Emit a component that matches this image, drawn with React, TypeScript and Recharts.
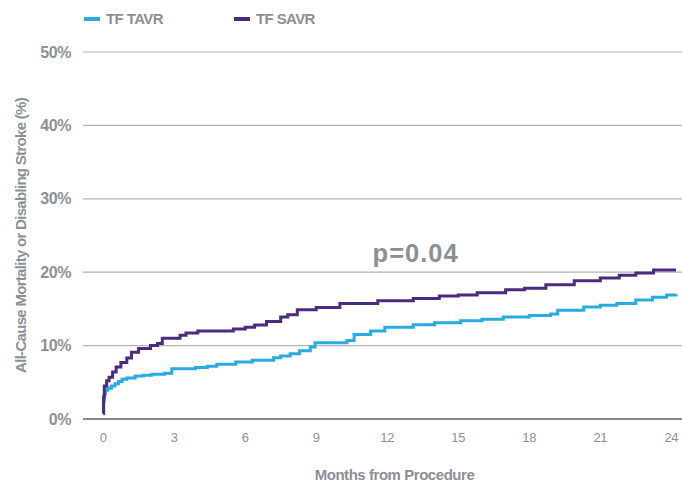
import React from 'react';
import { LineChart, Line, XAxis, YAxis, CartesianGrid, Legend, ReferenceDot } from 'recharts';

const tavrMonths = [0, 0.02, 0.05, 0.1, 0.2, 0.35, 0.5, 0.65, 0.8, 1.0, 1.35, 1.7, 2.05, 2.6, 2.9, 3.9, 4.4, 4.8, 5.6, 6.3, 7.2, 7.5, 7.9, 8.3, 8.75, 8.95, 10.3, 10.6, 11.3, 11.9, 13.1, 14.0, 15.1, 16.0, 16.9, 18.0, 18.9, 19.2, 20.3, 21.0, 21.7, 22.5, 23.2, 23.8, 24.2];
const tavrValues = [0.7, 2.5, 3.4, 3.9, 4.2, 4.5, 4.8, 5.1, 5.4, 5.6, 5.85, 5.95, 6.1, 6.25, 6.85, 7.0, 7.2, 7.45, 7.75, 8.0, 8.35, 8.6, 8.9, 9.3, 9.8, 10.4, 10.7, 11.5, 12.0, 12.5, 12.85, 13.1, 13.4, 13.6, 13.9, 14.1, 14.3, 14.8, 15.25, 15.5, 15.75, 16.2, 16.6, 16.9, 17.0];

const savrMonths = [0, 0.02, 0.05, 0.15, 0.25, 0.4, 0.55, 0.75, 1.0, 1.2, 1.5, 2.0, 2.3, 2.5, 3.25, 3.5, 4.0, 5.5, 6.0, 6.4, 6.9, 7.5, 7.8, 8.2, 9.0, 10.0, 11.6, 13.1, 14.2, 15.0, 15.8, 17.0, 17.8, 18.7, 19.9, 21.0, 21.8, 22.5, 23.25, 24.2];
const savrValues = [0.8, 3.0, 4.5, 5.2, 5.7, 6.4, 7.1, 7.7, 8.3, 9.1, 9.6, 10.0, 10.3, 11.0, 11.4, 11.7, 12.0, 12.25, 12.5, 12.8, 13.3, 13.9, 14.2, 14.9, 15.2, 15.75, 16.1, 16.4, 16.75, 16.9, 17.2, 17.6, 17.8, 18.3, 18.85, 19.2, 19.6, 19.9, 20.3, 20.3];

const xTicks = [0, 3, 6, 9, 12, 15, 18, 21, 24];
const yTicks = [0, 10, 20, 30, 40, 50];
const seriesNames = ['TF TAVR', 'TF SAVR'];
const pValueLabel = 'p=0.04';

const tavrData = tavrMonths.map((m, i) => ({ m, v: tavrValues[i] }));
const savrData = savrMonths.map((m, i) => ({ m, v: savrValues[i] }));

const BLUE = '#29abe2';
const PURPLE = '#4b2b7f';
const GRAY = '#8b9097';
const FONT = '"Liberation Sans", Arial, sans-serif';

const LegendContent = () => (
  <div style={{ display: 'flex', fontFamily: FONT, fontWeight: 700, fontSize: 15, color: GRAY, letterSpacing: -0.6 }}>
    {[BLUE, PURPLE].map((c, i) => (
      <div key={i} style={{ display: 'flex', alignItems: 'center', width: 150 }}>
        <span style={{ display: 'inline-block', width: 16, height: 4, background: c, marginRight: 6 }} />
        <span>{seriesNames[i]}</span>
      </div>
    ))}
  </div>
);

const YLabel = (props: any) => {
  const vb = props.viewBox || {};
  const cx = (vb.x || 0) + 20;
  const cy = (vb.y || 0) + (vb.height || 0) / 2;
  return (
    <text x={cx} y={cy} transform={`rotate(-90, ${cx}, ${cy})`} textAnchor="middle" dominantBaseline="central"
      fill={GRAY} fontFamily={FONT} fontWeight={700} fontSize={15} letterSpacing={-0.7}>
      All-Cause Mortality or Disabling Stroke (%)
    </text>
  );
};

const XLabel = (props: any) => {
  const vb = props.viewBox || {};
  const cx = (vb.x || 0) + (vb.width || 0) / 2 + 12;
  const cy = 474;
  return (
    <text x={cx} y={cy} textAnchor="middle" dominantBaseline="central"
      fill={GRAY} fontFamily={FONT} fontWeight={700} fontSize={15} letterSpacing={-0.45}>
      Months from Procedure
    </text>
  );
};

export default function App() {
  return (
    <div style={{ position: 'absolute', left: 0, top: 0, width: 682, height: 483, background: '#fff' }}>
      <LineChart width={682} height={483} margin={{ top: 52, right: 0, bottom: 34, left: 0 }}>
        <CartesianGrid horizontal vertical={false} stroke="#b4b4b4" strokeWidth={1.2} />
        <XAxis type="number" dataKey="m" domain={[-0.85, 24.45]} ticks={xTicks} allowDataOverflow
          height={30} axisLine={{ stroke: '#8c8c8c', strokeWidth: 2.2 }} tickLine={false} tickSize={6} tickMargin={8}
          tick={{ fill: GRAY, fontSize: 13, fontFamily: FONT, letterSpacing: -0.3 }} label={<XLabel />} />
        <YAxis type="number" domain={[0, 50]} ticks={yTicks} width={83} axisLine={false} tickLine={false}
          tickSize={0} tickMargin={12} tickFormatter={(v: number) => `${v}%`}
          tick={{ fill: GRAY, fontSize: 16, fontWeight: 700, fontFamily: FONT, letterSpacing: -0.4 }} label={<YLabel />} />
        <Legend layout="horizontal" verticalAlign="middle" align="center"
          wrapperStyle={{ top: 10, left: 84, width: 'auto' }} content={<LegendContent />} />
        <Line data={tavrData} dataKey="v" name={seriesNames[0]} type="stepAfter" stroke={BLUE} strokeWidth={3}
          dot={false} activeDot={false} isAnimationActive={false} />
        <Line data={savrData} dataKey="v" name={seriesNames[1]} type="stepAfter" stroke={PURPLE} strokeWidth={3}
          dot={false} activeDot={false} isAnimationActive={false} />
        <ReferenceDot x={13.2} y={22.6} r={0} fill="none" stroke="none"
          label={{ value: pValueLabel, position: 'center', fill: GRAY, fontSize: 25.5, fontWeight: 700, fontFamily: FONT, letterSpacing: 1 }} />
      </LineChart>
    </div>
  );
}
